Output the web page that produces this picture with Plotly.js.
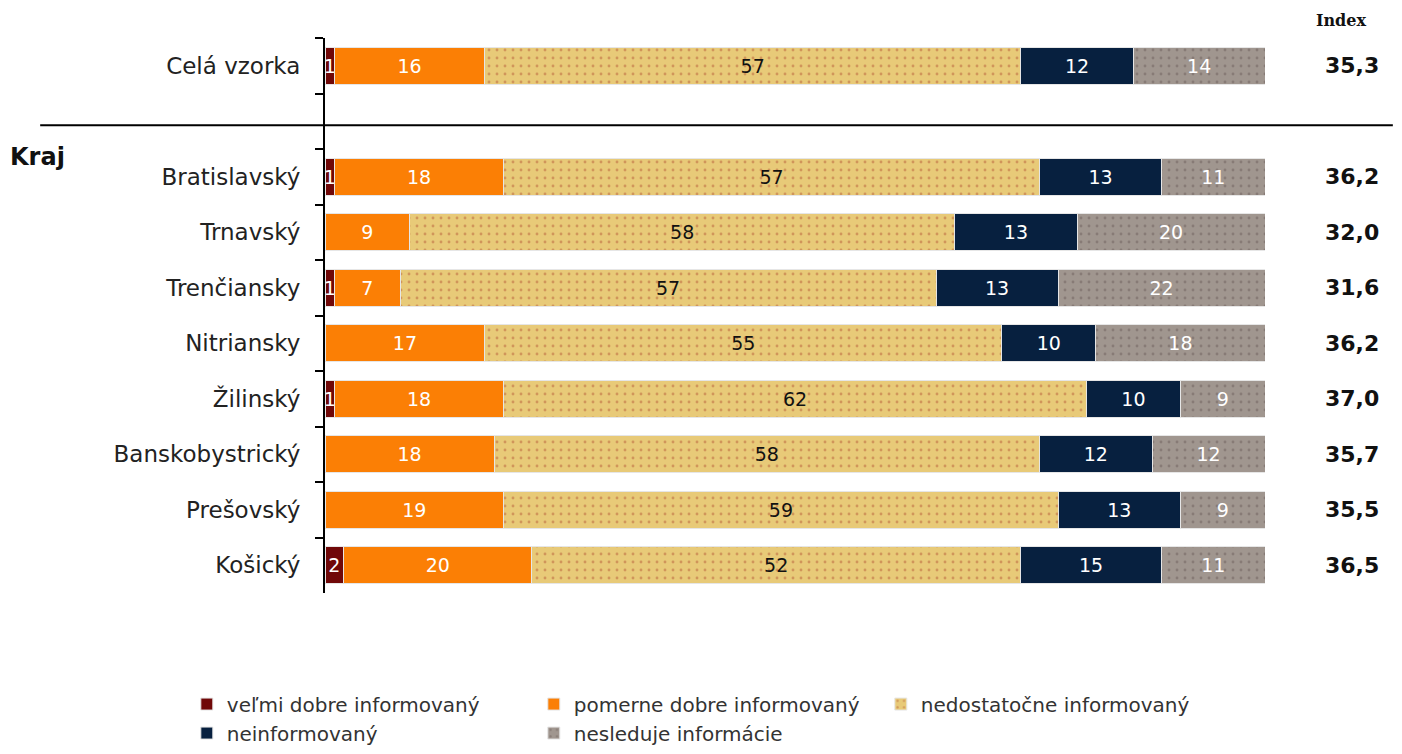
<!DOCTYPE html>
<html><head><meta charset="utf-8">
<script src="https://cdn.plot.ly/plotly-3.0.1.min.js"></script>
<style>html,body{margin:0;padding:0;background:#fff}#chart{width:1402px;height:754px}</style>
</head><body><div id="chart"></div>
<script>
const categories = ["Celá vzorka", " ", "Bratislavský", "Trnavský", "Trenčiansky", "Nitriansky", "Žilinský", "Banskobystrický", "Prešovský", "Košický"];
const velmiDobre   = [1, null, 1, 0, 1, 0, 1, 0, 0, 2];
const pomerneDobre = [16, null, 18, 9, 7, 17, 18, 18, 19, 20];
const nedostatocne = [57, null, 57, 58, 57, 55, 62, 58, 59, 52];
const neinformovany = [12, null, 13, 13, 13, 10, 10, 12, 13, 15];
const nesleduje    = [14, null, 11, 20, 22, 18, 9, 12, 9, 11];
const indexValues  = ["35,3", "", "36,2", "32,0", "31,6", "36,2", "37,0", "35,7", "35,5", "36,5"];
const seriesNames = ["veľmi dobre informovaný", "pomerne dobre informovaný", "nedostatočne informovaný", "neinformovaný", "nesleduje informácie"];

const FONT = "DejaVu Sans, Verdana, sans-serif";
const seriesData = [velmiDobre, pomerneDobre, nedostatocne, neinformovany, nesleduje];
const colors = ["#700808", "#FB7F05", "#E8CA78", "#07203F", "#A0968F"];
const textColors = ["#ffffff", "#ffffff", "#111111", "#ffffff", "#ffffff"];
const patterns = [null, null, {shape: ".", fgcolor: "#d0955a", size: 8, solidity: 0.1}, null, {shape: ".", fgcolor: "#877b76", size: 8, solidity: 0.1}];

const traces = seriesData.map((vals, i) => {
  const marker = {color: colors[i], line: {color: "#e6e6e6", width: 1}};
  if (patterns[i]) marker.pattern = Object.assign({bgcolor: colors[i]}, patterns[i]);
  return {
    type: "bar", orientation: "h", name: seriesNames[i],
    y: categories, x: vals,
    text: vals.map(v => (v ? String(v) : "")),
    textposition: "inside", insidetextanchor: "middle", constraintext: "none",
    textfont: {family: FONT, size: 19, color: textColors[i]},
    marker: marker, hoverinfo: "skip", cliponaxis: false
  };
});

const annotations = [];
categories.forEach((c, i) => {
  if (indexValues[i]) annotations.push({
    xref: "paper", yref: "y", x: 1.0926, y: c, text: indexValues[i], showarrow: false,
    xanchor: "center", yanchor: "middle", font: {family: FONT, size: 22, color: "#111", weight: "bold"}
  });
});
annotations.push({xref: "paper", yref: "paper", x: 1.081, y: 1.031, text: "Index", showarrow: false,
  xanchor: "center", yanchor: "middle", font: {family: "DejaVu Serif, serif", size: 16, color: "#111", weight: "bold"}});
annotations.push({xref: "paper", yref: "paper", x: -0.337, y: 0.786, text: "Kraj", showarrow: false,
  xanchor: "left", yanchor: "middle", font: {family: FONT, size: 24, color: "#111", weight: "bold"}});

const layout = {
  width: 1402, height: 754,
  margin: {l: 325, r: 137, t: 38, b: 161, autoexpand: false},
  paper_bgcolor: "#fff", plot_bgcolor: "#fff",
  barmode: "stack", bargap: 0.33,
  showlegend: true,
  legend: {orientation: "h", x: -0.147, xanchor: "left", y: -0.165, yanchor: "top",
    font: {family: FONT, size: 20, color: "#333"}, entrywidth: 302, traceorder: "normal",
    itemclick: false, itemdoubleclick: false},
  xaxis: {range: [0, 100], visible: false, fixedrange: true},
  yaxis: {type: "category", categoryorder: "array", categoryarray: categories,
    range: [9.5, -0.5], showline: true, linecolor: "#000", linewidth: 2,
    ticks: "outside", tickson: "boundaries", ticklen: 8, tickwidth: 2, tickcolor: "#000",
    ticklabelstandoff: 18, showgrid: false, zeroline: false,
    tickfont: {family: FONT, size: 23, color: "#222"}, fixedrange: true},
  shapes: [{type: "line", xref: "paper", yref: "paper", x0: -0.303, x1: 1.136, y0: 0.843, y1: 0.843,
    line: {color: "#000", width: 2}, layer: "above"}],
  annotations: annotations
};

Plotly.newPlot("chart", traces, layout, {displayModeBar: false, staticPlot: true});
</script></body></html>
